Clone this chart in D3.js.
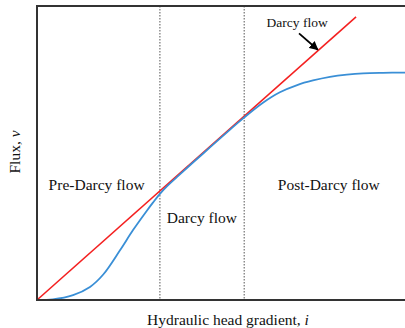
<!DOCTYPE html>
<html>
<head>
<meta charset="utf-8">
<script src="https://cdn.jsdelivr.net/npm/d3@7"></script>
<style>
  body { margin: 0; background: #fff; }
  svg { display: block; }
  text { font-family: "Liberation Serif", "DejaVu Serif", serif; fill: #111; }
</style>
</head>
<body>
<svg id="chart" width="405" height="328"></svg>
<script>
// regime boundaries on the gradient axis
const boundaries = [3.34, 5.63]

// Darcy's law line (linear)
const darcyLine = [[0, 0], [8.67, 8.67]]

// flux curve
const fluxCurve = [
    [0, 0], [0.43, 0.02], [0.98, 0.15], [1.44, 0.40], [1.80, 0.78],
    [2.26, 1.53], [2.61, 2.14], [2.99, 2.74], [3.15, 2.98], [3.34, 3.25],
    [3.55, 3.50], [3.8, 3.76], [4.2, 4.17], [4.7, 4.67], [5.2, 5.17],
    [5.6, 5.56], [6.14, 6.04], [6.60, 6.36], [7.07, 6.58], [7.50, 6.72],
    [7.96, 6.83], [8.42, 6.90], [8.86, 6.94], [9.4, 6.955], [10.0, 6.96]
]

const regionLabels = [
    { text: 'Pre-Darcy flow', x: 1.62, y: 3.37 },
    { text: 'Darcy flow', x: 4.48, y: 2.35 },
    { text: 'Post-Darcy flow', x: 7.93, y: 3.37 }
]

const svg = d3.select('#chart')
const margin = { left: 37, top: 6, right: 0, bottom: 28 }
const width = 405, height = 328

const x = d3.scaleLinear().domain([0, 10]).range([margin.left, width - margin.right])
const y = d3.scaleLinear().domain([0, 9]).range([height - margin.bottom, margin.top])

// dotted regime dividers
svg.selectAll('line.divider')
    .data(boundaries)
    .enter()
    .append('line')
    .classed('divider', true)
    .attr('x1', d => x(d)).attr('x2', d => x(d))
    .attr('y1', y(9)).attr('y2', y(0))
    .attr('stroke', '#555')
    .attr('stroke-width', 1)
    .attr('stroke-dasharray', '1.5,1.5')

const line = d3.line().x(d => x(d[0])).y(d => y(d[1]))

svg.append('path')
    .datum(darcyLine)
    .attr('d', line)
    .attr('fill', 'none')
    .attr('stroke', '#f42020')
    .attr('stroke-width', 1.6)

svg.append('path')
    .datum(fluxCurve)
    .attr('d', line.curve(d3.curveCatmullRom))
    .attr('fill', 'none')
    .attr('stroke', '#3a8fd6')
    .attr('stroke-width', 1.8)

// frame (right side runs off the picture)
svg.append('path')
    .attr('d', `M${width + 2},${y(9)}H${x(0)}V${y(0)}H${width + 2}`)
    .attr('fill', 'none')
    .attr('stroke', '#333')
    .attr('stroke-width', 2)

svg.selectAll('text.region')
    .data(regionLabels)
    .enter()
    .append('text')
    .classed('region', true)
    .attr('x', d => x(d.x))
    .attr('y', d => y(d.y))
    .attr('text-anchor', 'middle')
    .style('font-size', '15.5px')
    .text(d => d.text)

// "Darcy flow" annotation with arrow
svg.append('defs').append('marker')
    .attr('id', 'arrow')
    .attr('viewBox', '0 0 10 10')
    .attr('refX', 9).attr('refY', 5)
    .attr('markerWidth', 5).attr('markerHeight', 5)
    .attr('orient', 'auto')
    .append('path')
    .attr('d', 'M0,0L10,5L0,10z')
    .attr('fill', '#000')

svg.append('text')
    .attr('x', x(7.07))
    .attr('y', y(8.36))
    .attr('text-anchor', 'middle')
    .style('font-size', '13.5px')
    .text('Darcy flow')

svg.append('line')
    .attr('x1', x(7.12)).attr('y1', y(8.16))
    .attr('x2', x(7.63)).attr('y2', y(7.66))
    .attr('stroke', '#000')
    .attr('stroke-width', 1.8)
    .attr('marker-end', 'url(#arrow)')

// axis titles
const xt = svg.append('text')
    .attr('x', 228)
    .attr('y', 325)
    .attr('text-anchor', 'middle')
    .style('font-size', '15.5px')
xt.append('tspan').text('Hydraulic head gradient, ')
xt.append('tspan').style('font-style', 'italic').text('i')

const yt = svg.append('text')
    .attr('transform', 'translate(20,152) rotate(-90)')
    .attr('text-anchor', 'middle')
    .style('font-size', '15.5px')
yt.append('tspan').text('Flux, ')
yt.append('tspan').style('font-style', 'italic').text('v')
</script>
</body>
</html>
